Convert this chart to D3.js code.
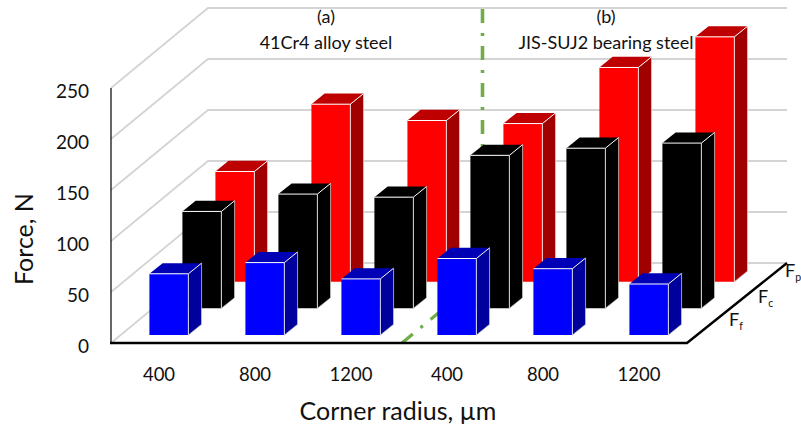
<!DOCTYPE html>
<html><head><meta charset="utf-8">
<script src="https://cdn.jsdelivr.net/npm/d3@7/dist/d3.min.js"></script>
<style>html,body{margin:0;padding:0;background:#fff;overflow:hidden}svg{display:block}text{font-family:Lato,"Open Sans",sans-serif;fill:#111}</style>
</head><body><svg id="c" width="801" height="432"></svg>
<script>
const categories = ["400","800","1200","400","800","1200"];
const materialTitles = ["41Cr4 alloy steel","JIS-SUJ2 bearing steel"];
const materialTags = ["(a)","(b)"];
const seriesNames = ["Ff","Fc","Fp"];
const ff = [60,71,55,75,65,50];
const fc = [95,112,109,150,157,162];
const fp = [108,174,158,155,210,240];
const yTicks = [0,50,100,150,200,250];

const svg = d3.select("#c");
const x = d3.scaleBand().domain(d3.range(categories.length)).range([111,687]).paddingInner(0.594).paddingOuter(0.297);
const y = d3.scaleLinear().domain([0,250]).range([343,88]);
const depthX = 99, wallX = 97, depthY = -80;
const z = d3.scaleBand().domain(d3.range(3)).range([0,1]).paddingInner(0.6).paddingOuter(0.3);
const px = (i,d)=>x(i)+d*depthX, py=(v,d)=>y(v)+d*depthY;
const GRID="#d4d4d4";
const g = svg.append("g");

// walls
yTicks.forEach(t=>{
  g.append("path").attr("d",d3.line()([[111,y(t)],[111+wallX,y(t)+depthY],[111+wallX+579,y(t)+depthY]]))
   .attr("fill","none").attr("stroke",GRID).attr("stroke-width",1.8);
});

// green divider behind the bars
const divX = 402, divTopY = 9;
const floorEndX = 482.5;
const floorEndY = 343 + (floorEndX-divX)*depthY/wallX;
const DIV = {stroke:"#70ad47",dash:"14 10 3 10"};
g.append("path").attr("d",d3.line()([[divX,343],[floorEndX,floorEndY]]))
 .attr("fill","none").attr("stroke",DIV.stroke).attr("stroke-width",3.2).attr("stroke-dasharray",DIV.dash);
g.append("path").attr("d",d3.line()([[floorEndX,divTopY],[floorEndX,floorEndY]]))
 .attr("fill","none").attr("stroke",DIV.stroke).attr("stroke-width",3.6).attr("stroke-dasharray",DIV.dash);

// bars
const colours = [
 {front:"#0000ff",top:"#0000b4",side:"#00009c",edge:"#dde"},
 {front:"#000000",top:"#000000",side:"#000000",edge:"#ddd"},
 {front:"#ff0000",top:"#be0000",side:"#a00000",edge:"#fdd"}];
const values=[ff,fc,fp];
const barDepth=z.bandwidth();
[2,1,0].forEach(s=>{
  const d0=z(s), c=colours[s];
  values[s].forEach((v,i)=>{
    const xl=px(i,d0), xr=xl+x.bandwidth(), dx=barDepth*depthX, dy=barDepth*depthY;
    const yb=py(0,d0), yt=py(v,d0);
    const bar=g.append("g");
    const poly=(pts,f)=>bar.append("polygon").attr("points",pts.map(p=>p.join(",")).join(" ")).attr("fill",f);
    poly([[xl,yb],[xr,yb],[xr,yt],[xl,yt]],c.front);
    poly([[xl,yt],[xr,yt],[xr+dx,yt+dy],[xl+dx,yt+dy]],c.top);
    poly([[xr,yb],[xr+dx,yb+dy],[xr+dx,yt+dy],[xr,yt]],c.side);
    const ln=(pts,col,w)=>bar.append("path").attr("d",d3.line()(pts)).attr("fill","none").attr("stroke",col).attr("stroke-width",w);
    ln([[xl,yt],[xr,yt],[xr+dx,yt+dy]],"#fff",1);
    ln([[xr,yt],[xr,yb]],c.edge,1);
    ln([[xr,yb],[xr+dx,yb+dy]],"#bbb",0.7);
    ln([[xr+dx,yt+dy],[xr+dx,yb+dy]],c.edge,0.7);
  });
});

// axes frame
g.append("path").attr("d",d3.line()([[111,y(250)],[111,343]])).attr("stroke","#000").attr("stroke-width",1.2);
g.append("path").attr("d",d3.line()([[110,343],[687,343],[787,263]])).attr("fill","none").attr("stroke","#000").attr("stroke-width",2.4);

// tick labels via axes
const xAxis=d3.axisBottom(x).tickSize(0).tickPadding(25).tickFormat(i=>categories[i]);
const ax=svg.append("g").attr("transform","translate(0,343)").call(xAxis);
ax.select(".domain").remove();
ax.selectAll("text").attr("font-size",18.5).attr("fill","#111");
const yAxis=d3.axisLeft(y).tickValues(yTicks).tickSize(0).tickPadding(22);
const ay=svg.append("g").attr("transform","translate(111,3)").call(yAxis);
ay.select(".domain").remove();
ay.selectAll("text").attr("font-size",19).attr("fill","#111");

// titles
svg.append("text").attr("x",398).attr("y",420).attr("text-anchor","middle").attr("font-size",25).text("Corner radius, µm");
svg.append("text").attr("transform","translate(33,239) rotate(-90)").attr("text-anchor","middle").attr("font-size",25).text("Force, N");
[[326,materialTags[0],materialTitles[0]],[606,materialTags[1],materialTitles[1]]].forEach(d=>{
  svg.append("text").attr("x",d[0]).attr("y",23).attr("text-anchor","middle").attr("font-size",18).text(d[1]);
  svg.append("text").attr("x",d[0]).attr("y",49).attr("text-anchor","middle").attr("font-size",18).text(d[2]);
});
// depth labels
[[729,326],[758,303],[785,277]].forEach((p,i)=>{
  const t=svg.append("text").attr("x",p[0]).attr("y",p[1]).attr("font-size",18);
  t.append("tspan").text(seriesNames[i][0]);
  t.append("tspan").attr("font-size",10.5).attr("dy",4).text(seriesNames[i][1]);
});
</script></body></html>
